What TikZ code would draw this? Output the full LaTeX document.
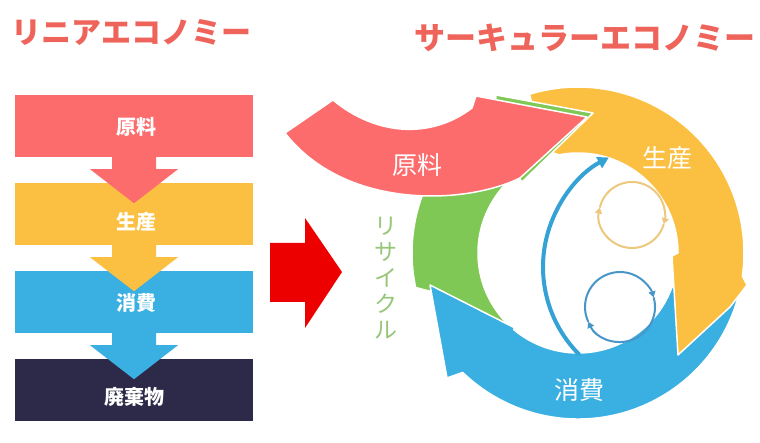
\documentclass[tikz,border=0pt]{standalone}
\usepackage{fontspec}
\newfontfamily\jpfont{Noto Sans CJK JP}
\usepackage{tikz}
\usetikzlibrary{arrows.meta}
\definecolor{titlered}{RGB}{238,100,90}
\definecolor{rawred}{RGB}{252,108,108}
\definecolor{prodyellow}{RGB}{251,192,66}
\definecolor{consblue}{RGB}{58,175,225}
\definecolor{wastenavy}{RGB}{44,42,72}
\definecolor{recycgreen}{RGB}{128,200,85}
\definecolor{recyctext}{RGB}{150,198,120}
\definecolor{shiftred}{RGB}{236,0,0}
\definecolor{loopyellow}{RGB}{236,200,125}
\definecolor{loopblue}{RGB}{72,150,200}
\definecolor{flowblue}{RGB}{52,162,212}
\tikzstyle{headline} = [
	text=titlered,
	inner sep=0pt,
	font=\jpfont\bfseries\fontsize{30}{30}\selectfont
]
\tikzstyle{bar} = [rectangle, minimum width=238pt, minimum height=62pt, inner sep=0pt]
\tikzstyle{bartext} = [text=white, inner sep=0pt, font=\jpfont\bfseries\fontsize{20}{20}\selectfont]
\tikzstyle{ringtext} = [text=white, inner sep=0pt, font=\jpfont\fontsize{25}{25}\selectfont]
\tikzstyle{band} = [draw=white, line width=1.5pt, line join=round]
\tikzstyle{cycleline} = [line width=2pt, -{Triangle[length=6pt, width=7pt]}]

\begin{document}
\begin{tikzpicture}[x=1pt, y=-1pt]
    \useasboundingbox (0,0) rectangle (760,443);
    \node[headline] (lineartitle) at (132,33) {リニアエコノミー};
    \node[headline, font=\jpfont\bfseries\fontsize{31}{31}\selectfont] (circtitle) at (585,38) {サーキュラーエコノミー};
    % linear economy
    \node[bar, fill=rawred] (rawbar) at (134,126) {};
    \node[bar, fill=prodyellow] (prodbar) at (134,214) {};
    \node[bar, fill=consblue] (consbar) at (134,302) {};
    \node[bar, fill=wastenavy] (wastebar) at (134,390) {};
    \foreach \b/\c in {rawbar/rawred, prodbar/prodyellow, consbar/consblue}
      \fill[\c] (\b.south) ++(-22,-6) -- ++(0,18) -- ++(-22,0) -- ++(44,34) -- ++(44,-34) -- ++(-22,0) -- ++(0,-18) -- cycle;
    \node[bartext] (rawtext) at (136,127) {原料};
    \node[bartext] (prodtext) at (136,222) {生産};
    \node[bartext] (constext) at (136,303) {消費};
    \node[bartext] (wastetext) at (134,397) {廃棄物};
    \fill[shiftred] (270,243) -- (305,243) -- (305,218) -- (342,272) -- (305,328) -- (305,302) -- (270,302) -- cycle;
    % circular economy
    \coordinate (ring) at (578,253);
    \fill[recycgreen, band] (516.4,331.3) -- (433,292) -- ([shift={(168:166)}]ring) arc[start angle=168, end angle=240, radius=166]
      -- (496,95) -- (593,113) -- (522,182) -- ([shift={(232:100)}]ring) arc[start angle=232, end angle=128, radius=100] -- cycle;
    \fill[consblue, band] ([shift={(10:166)}]ring) arc[start angle=10, end angle=134, radius=166]
      -- (447,378) -- (430,285) -- (515,328) -- ([shift={(130:100)}]ring) arc[start angle=130, end angle=20, radius=100] -- cycle;
    \fill[prodyellow, band] ([shift={(-107:166)}]ring) arc[start angle=-107, end angle=8, radius=166]
      -- (747,285) -- (730,307) -- (678,355) -- (672,256) -- ([shift={(0:100)}]ring) arc[start angle=0, end angle=-101, radius=100] -- (545,150) -- cycle;
    \fill[recycgreen, band] ([shift={(232:100)}]ring) -- ([shift={(240:166)}]ring) -- (496,95) -- (593,113) -- (522,182) -- cycle;
    \fill[rawred, band] (285,133) -- (333,100) .. controls (375,135) and (430,140) .. (472,108) -- (476,96) -- (587,117)
      -- (520,178) .. controls (465,205) and (345,210) .. (285,133) -- cycle;
    % inner loops
    \coordinate (prodloop) at (632,215);
    \coordinate (consloop) at (620,307);
    \coordinate (flow) at (667,267);
    \foreach \a/\b in {16/193, 193/376}
      \draw[cycleline, loopyellow] ([shift={(\a:33)}]prodloop) arc[start angle=\a, end angle=\b, radius=33];
    \foreach \a/\b in {155/344, 344/515}
      \draw[cycleline, loopblue] ([shift={(\a:35)}]consloop) arc[start angle=\a, end angle=\b, radius=35];
    \draw[flowblue, line width=4pt, -{Triangle[length=11pt, width=12pt]}] ([shift={(135:124)}]flow) arc[start angle=135, end angle=242, radius=124];
    \node[ringtext] (rawlabel) at (417,165) {原料};
    \node[ringtext] (prodlabel) at (667,158) {生産};
    \node[ringtext] (conslabel) at (579,390) {消費};
    \node[text=recyctext, align=center, inner sep=0pt, font=\jpfont\fontsize{23}{26}\selectfont] (recyclabel) at (386,278) {リ\\サ\\イ\\ク\\ル};
\end{tikzpicture}
\end{document}
